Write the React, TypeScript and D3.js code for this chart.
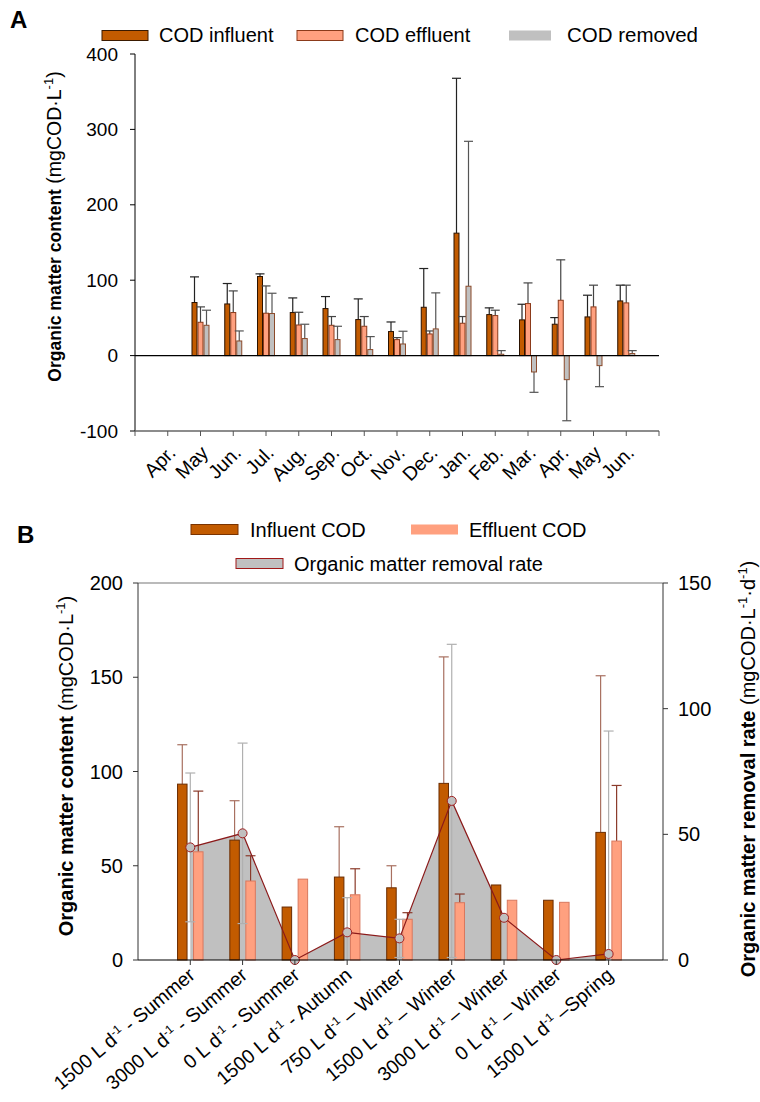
import React from "react";
import * as d3 from "d3";

// Panel A: monthly COD, mg/L
const monthsA = ["Apr.", "May", "Jun.", "Jul.", "Aug.", "Sep.", "Oct.", "Nov.", "Dec.", "Jan.", "Feb.", "Mar.", "Apr.", "May", "Jun."];
const codInfluent = [null, 70.4, 68.5, 104.9, 57.1, 62.4, 47.8, 31.9, 64.1, 162.4, 54.4, 47.4, 41.6, 51.3, 72.5];
const codInfluentErr = [null, 34, 27.1, 3.5, 19.4, 15.9, 27.4, 12.7, 51.4, 205.4, 8.9, 20.7, 8.8, 28.8, 20.9];
const codEffluent = [null, 44.2, 57.1, 56.2, 40.6, 40.2, 38.9, 21.2, 28.7, 42.9, 53.1, 69.0, 73.4, 64.6, 69.9];
const codEffluentErr = [null, 20.4, 28.7, 36.2, 16.9, 11.6, 12.9, 2.7, 4.0, 8.9, 7.1, 27.4, 53.6, 28.8, 23.5];
const codRemoved = [null, 40.2, 19.4, 55.8, 22.6, 21.2, 8.0, 15.4, 35.4, 92.0, 1.8, -21.7, -31.9, -13.3, 2.7];
const codRemovedErr = [null, 20, 13.3, 26.9, 19, 17.7, 17.2, 16.9, 47.8, 192.2, 4.8, 27, 54.5, 27.9, 3.9];
const ticksA = [-100, 0, 100, 200, 300, 400];

// Panel B: per operating stage
const stageFlows = ["1500", "3000", "0", "1500", "750", "1500", "3000", "0", "1500"];
const stageSeasons = [" - Summer", " - Summer", " - Summer", " - Autumn", " \u2013 Winter", " \u2013 Winter", " \u2013 Winter", " \u2013 Winter", " \u2013Spring"];
const influentB = [93.3, 63.6, 28.1, 44.0, 38.3, 93.7, 39.8, 31.7, 67.7];
const influentBErr = [20.9, 20.9, 0, 26.7, 11.7, 67.1, 0, 0, 83.1];
const effluentB = [57.4, 41.9, 42.9, 34.6, 21.6, 30.4, 31.7, 30.6, 63.1];
const effluentBErr = [32.2, 13.4, 0, 13.8, 3.5, 4.6, 0, 0, 29.5];
const removalRate = [44.8, 50.4, 0, 11.0, 8.6, 63.3, 16.8, 0, 2.4];
const removalRateErr = [29.6, 35.9, 0, 13.8, 7.6, 62.3, 0, 0, 88.7];
const ticksBLeft = [0, 50, 100, 150, 200];
const ticksBRight = [0, 50, 100, 150];

const FONT = "'Liberation Sans', Arial, Helvetica, sans-serif";
const C_INF = "#C25B00";
const C_EFF = "#FFA07F";
const C_REM = "#C0C0C0";

function ErrUp({ x, y0, y1, color, cap = 10 }) {
  return (
    <g stroke={color} strokeWidth={1.2}>
      <line x1={x} x2={x} y1={y0} y2={y1} />
      <line x1={x - cap / 2} x2={x + cap / 2} y1={y1} y2={y1} />
    </g>
  );
}

function PanelA() {
  const x = d3.scaleLinear().domain([0, 16]).range([135, 659]);
  const y = d3.scaleLinear().domain([-100, 400]).range([431, 54]);
  const bw = 5;
  const series = [
    { v: codInfluent, e: codInfluentErr, dx: -6, fill: C_INF, stroke: "#2a1200", ec: "#222" },
    { v: codEffluent, e: codEffluentErr, dx: 0, fill: C_EFF, stroke: "#8B3A1A", ec: "#444" },
    { v: codRemoved, e: codRemovedErr, dx: 6, fill: C_REM, stroke: "#8B4A2A", ec: "#555" },
  ];
  return (
    <g fontFamily={FONT}>
      <text x={10} y={28} fontSize={24} fontWeight="bold">A</text>
      {/* legend */}
      <rect x={102} y={30.5} width={46} height={10} fill={C_INF} stroke="#3a1a00" />
      <text x={159} y={42} fontSize={20}>COD influent</text>
      <rect x={297} y={30.5} width={46} height={10} fill={C_EFF} stroke="#8B3A1A" />
      <text x={355} y={42} fontSize={20}>COD effluent</text>
      <rect x={509} y={30.5} width={42} height={10} fill={C_REM} />
      <text x={567} y={42} fontSize={20.5}>COD removed</text>

      {/* y axis */}
      <line x1={135} x2={135} y1={y(400)} y2={y(-100)} stroke="#000" />
      {ticksA.map((t) => (
        <g key={t}>
          <line x1={130} x2={135} y1={y(t)} y2={y(t)} stroke="#000" />
          <text x={118} y={y(t)} dy="0.35em" textAnchor="end" fontSize={19}>{t}</text>
        </g>
      ))}
      <text transform={`translate(61,${(y(400) + y(-100)) / 2 - 16}) rotate(-90)`} textAnchor="middle" fontSize={19.5}>
        <tspan fontWeight="bold" fontSize={17.5}>Organic matter content</tspan>
        <tspan> (mgCOD·L</tspan>
        <tspan dy={-8} fontSize={13}>-1</tspan>
        <tspan dy={8}>)</tspan>
      </text>

      {/* bottom axis */}
      <line x1={x(0)} x2={x(16)} y1={y(-100)} y2={y(-100)} stroke="#666" strokeWidth={1.5} />
      {d3.range(0, 17).map((i) => (
        <line key={i} x1={x(i)} x2={x(i)} y1={y(-100)} y2={y(-100) + 5} stroke="#555" />
      ))}
      {monthsA.map((m, i) => (
        <text key={i} transform={`translate(${x(i + 1) + 9},${y(-100) + 23}) rotate(-45)`} textAnchor="end" fontSize={19.5}>{m}</text>
      ))}

      {/* bars */}
      {series.map((s, k) =>
        s.v.map((v, i) => {
          if (v === null) return null;
          const cx = x(i + 1) + s.dx;
          const top = Math.min(y(v), y(0));
          const h = Math.abs(y(v) - y(0));
          const eEnd = v >= 0 ? y(v + s.e[i]) : y(v - s.e[i]);
          return (
            <g key={`${k}-${i}`}>
              <ErrUp x={cx} y0={y(v)} y1={eEnd} color={s.ec} cap={9} />
              <rect x={cx - bw / 2} y={top} width={bw} height={h} fill={s.fill} stroke={s.stroke} strokeWidth={1} />
            </g>
          );
        })
      )}
      {/* zero line */}
      <line x1={x(0)} x2={x(16)} y1={y(0)} y2={y(0)} stroke="#000" strokeWidth={1.2} />
    </g>
  );
}

function PanelB() {
  const x = d3.scaleLinear().domain([0, 10.04]).range([138, 663]);
  const y = d3.scaleLinear().domain([0, 200]).range([960, 583]);
  const yr = d3.scaleLinear().domain([0, 150]).range([960, 583]);
  const bw = 9.5;
  const pts = removalRate.map((v, i) => [x(i + 1), yr(v)]);
  const area = d3.area().x((d) => d[0]).y0(yr(0)).y1((d) => d[1]);
  const line = d3.line();
  return (
    <g fontFamily={FONT}>
      <text x={17} y={543} fontSize={24} fontWeight="bold">B</text>
      {/* legend */}
      <rect x={191} y={524.5} width={47} height={10} fill={C_INF} stroke="#7A3300" />
      <text x={250} y={537} fontSize={20}>Influent COD</text>
      <rect x={411} y={524.5} width={47} height={10} fill={C_EFF} />
      <text x={469} y={537} fontSize={20}>Effluent COD</text>
      <rect x={236} y={558.5} width={47} height={10} fill={C_REM} stroke="#A01818" />
      <text x={294} y={571} fontSize={20}>Organic matter removal rate</text>

      {/* removal rate area */}
      <path d={area(pts)} fill={C_REM} />

      {/* bars */}
      {influentB.map((v, i) => (
        <g key={`i${i}`}>
          {influentBErr[i] > 0 && <ErrUp x={x(i + 1) - 8} y0={y(v)} y1={y(v + influentBErr[i])} color="#A87060" />}
          <rect x={x(i + 1) - 8 - bw / 2} y={y(v)} width={bw} height={y(0) - y(v)} fill={C_INF} stroke="#6A2C00" />
        </g>
      ))}
      {effluentB.map((v, i) => (
        <g key={`e${i}`}>
          {effluentBErr[i] > 0 && <ErrUp x={x(i + 1) + 8} y0={y(v)} y1={y(v + effluentBErr[i])} color="#8B3A2A" />}
          <rect x={x(i + 1) + 8 - bw / 2} y={y(v)} width={bw} height={y(0) - y(v)} fill={C_EFF} stroke="#D8785E" />
        </g>
      ))}

      {/* removal rate line, error bars, points */}
      <path d={line(pts)} fill="none" stroke="#8B1A1A" strokeWidth={1.2} />
      {removalRate.map((v, i) => {
        const e = removalRateErr[i];
        if (!e) return null;
        const cx = x(i + 1);
        const lo = Math.max(0, v - e);
        return (
          <g key={`r${i}`} stroke="#B0B0B0" strokeWidth={1.2}>
            <line x1={cx} x2={cx} y1={yr(v + e)} y2={yr(lo)} />
            <line x1={cx - 5} x2={cx + 5} y1={yr(v + e)} y2={yr(v + e)} />
            {v - e > 0 && <line x1={cx - 5} x2={cx + 5} y1={yr(lo)} y2={yr(lo)} />}
          </g>
        );
      })}
      {pts.map((p, i) => (
        <circle key={`c${i}`} cx={p[0]} cy={p[1]} r={4.5} fill={C_REM} stroke="#A02020" strokeWidth={1} />
      ))}

      {/* frame and axes */}
      <line x1={138} x2={663} y1={583} y2={583} stroke="#777" strokeWidth={1.2} />
      <line x1={138} x2={138} y1={583} y2={960} stroke="#333" />
      <line x1={663} x2={663} y1={583} y2={960} stroke="#333" />
      <line x1={138} x2={663} y1={960} y2={960} stroke="#000" strokeWidth={1.2} />
      {ticksBLeft.map((t) => (
        <g key={`l${t}`}>
          <line x1={133} x2={138} y1={y(t)} y2={y(t)} stroke="#333" />
          <text x={123} y={y(t)} dy="0.35em" textAnchor="end" fontSize={20}>{t}</text>
        </g>
      ))}
      {ticksBRight.map((t) => (
        <g key={`r${t}`}>
          <line x1={663} x2={668} y1={yr(t)} y2={yr(t)} stroke="#333" />
          <text x={678} y={yr(t)} dy="0.35em" textAnchor="start" fontSize={20}>{t}</text>
        </g>
      ))}
      {stageFlows.map((f, i) => (
        <g key={`t${i}`}>
          <line x1={x(i + 1)} x2={x(i + 1)} y1={960} y2={965} stroke="#333" />
          <text transform={`translate(${x(i + 1) + 6},${977}) rotate(-40)`} textAnchor="end" fontSize={19.5}>
            {f} L d
            <tspan dy={-7} fontSize={12}>-1</tspan>
            <tspan dy={7}>{stageSeasons[i]}</tspan>
          </text>
        </g>
      ))}

      <text transform={`translate(73,766) rotate(-90)`} textAnchor="middle" fontSize={20}>
        <tspan fontWeight="bold">Organic matter content</tspan>
        <tspan> (mgCOD·L</tspan>
        <tspan dy={-8} fontSize={13}>-1</tspan>
        <tspan dy={8}>)</tspan>
      </text>
      <text transform={`translate(755,769) rotate(-90)`} textAnchor="middle" fontSize={20}>
        <tspan fontWeight="bold">Organic matter removal rate</tspan>
        <tspan> (mgCOD·L</tspan>
        <tspan dy={-8} fontSize={13}>-1</tspan>
        <tspan dy={8}>·d</tspan>
        <tspan dy={-8} fontSize={13}>-1</tspan>
        <tspan dy={8}>)</tspan>
      </text>
    </g>
  );
}

export default function App() {
  return (
    <svg width={760} height={1102} style={{ position: "absolute", left: 0, top: 0, background: "#fff" }}>
      <rect width={760} height={1102} fill="#fff" />
      <PanelA />
      <PanelB />
    </svg>
  );
}
